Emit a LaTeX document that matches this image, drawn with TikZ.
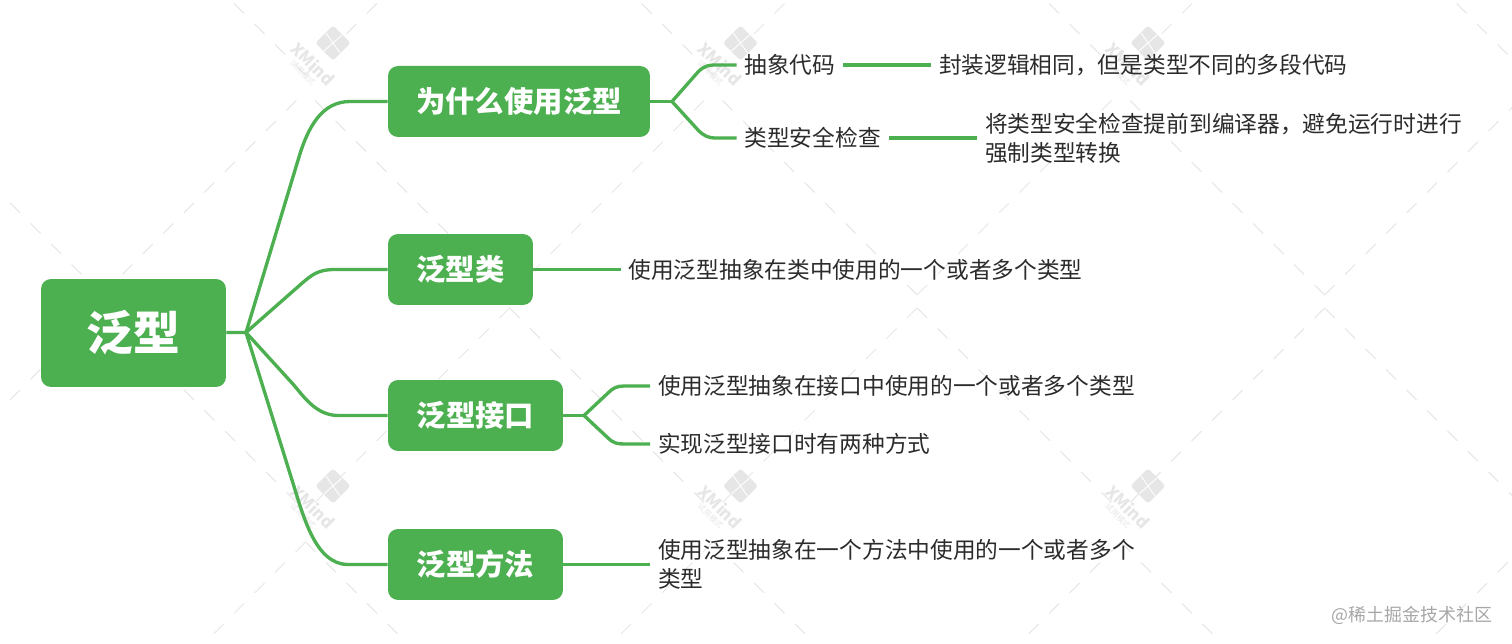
\documentclass[tikz,border=0pt]{standalone}
\usepackage{fontspec}
\setmainfont{Noto Sans CJK SC}
\definecolor{topicgreen}{HTML}{4CAF50}
\definecolor{leafink}{HTML}{2B2B2B}
\definecolor{markgray}{HTML}{E6E6E6}
\tikzset{
  topic/.style={rectangle, rounded corners=.2cm, fill=topicgreen, text=white, font=\fontsize{16.7}{20}\bfseries\selectfont, minimum height=1.42cm, inner sep=0pt},
  leaf/.style={anchor=west, align=left, text=leafink, font=\fontsize{12.92}{16.5}\selectfont, inner xsep=4.4pt, inner ysep=2pt},
  link/.style={draw=topicgreen, line width=1.9pt},
  markdash/.style={draw=markgray, line width=.6pt, dash pattern=on 8pt off 8.5pt}
}
\begin{document}
\begin{tikzpicture}[x=.02cm,y=-.02cm]
\clip (0,0) rectangle (1512,644);
\foreach \i in {0,...,3}{
\pgfmathsetmacro{\cx}{102+407.5*\i}
\pgfmathsetmacro{\wx}{\cx+203.5}
\draw[markdash] (\cx,295) -- ++(-197,-197);
\draw[markdash] (\cx,295) -- ++(197,-197);
\draw[markdash] (\cx,308) -- ++(-205,205);
\draw[markdash] (\cx,308) -- ++(205,205);
\draw[markdash] (\wx,75) -- ++(-80,-80);
\draw[markdash] (\wx,75) -- ++(80,-80);
\draw[markdash] (\wx,542) -- ++(-110,110);
\draw[markdash] (\wx,542) -- ++(110,110);
}
\foreach \wx in {333,740.5,1148}{
\foreach \wy in {43,486}{
\node[rectangle, rounded corners=.06cm, fill=markgray, minimum size=.5cm, inner sep=0pt, rotate=45] (mark\wy) at (\wx,\wy){};
\draw[white, line width=.5pt] (\wx-7,\wy-10) -- (\wx+7,\wy+10);
\draw[white, line width=.5pt] (\wx+9,\wy-8) -- (\wx-9,\wy+8);
\node[rotate=-45, text=markgray, font=\fontsize{9.5}{10}\bfseries\selectfont, inner sep=0pt] at (\wx-20,\wy+21){XMind};
\node[rotate=-45, text=markgray, font=\fontsize{4.5}{5}\selectfont, inner sep=0pt] at (\wx-30,\wy+30){试用模式};
}
}
\node[topic, minimum width=3.7cm, minimum height=2.16cm, font=\fontsize{26.6}{30}\bfseries\selectfont] (topic0) at (133.5,333){泛型};
\node[topic, minimum width=5.24cm] (topic1) at (519,101.5){为什么使用泛型};
\node[topic, minimum width=2.9cm] (topic2) at (460.5,269.5){泛型类};
\node[topic, minimum width=3.5cm] (topic3) at (475.5,415.5){泛型接口};
\node[topic, minimum width=3.5cm] (topic4) at (475.5,564.5){泛型方法};
\coordinate (fork0) at (246,332.5);
\coordinate (fork1) at (672,101.5);
\coordinate (fork3) at (584,415.5);
\draw[link](topic0) -- (fork0);
\draw[link](fork0) -- (299,157) .. controls (308,127) and (322,101.5) .. (350,101.5) -- (topic1.west);
\draw[link](fork0) -- (300,285) .. controls (312,274.5) and (318,269.5) .. (335,269.5) -- (topic2.west);
\draw[link](fork0) -- (292,383) .. controls (302,394) and (315,415.5) .. (338,415.5) -- (topic3.west);
\draw[link](fork0) -- (292,480) .. controls (303,515) and (315,564.5) .. (348,564.5) -- (topic4.west);
\node[leaf] (leaf1) at (736.5,65){抽象代码};
\node[leaf] (leaf2) at (736.5,138){类型安全检查};
\node[leaf] (leaf3) at (931,65){封装逻辑相同，但是类型不同的多段代码};
\node[leaf] (leaf4) at (977,138){将类型安全检查提前到编译器，避免运行时进行\\强制类型转换};
\draw[link](topic1) -- (fork1);
\draw[link](fork1) -- (698,72) .. controls (704,66) and (708,65) .. (716,65) -- (leaf1.west);
\draw[link](fork1) -- (698,130) .. controls (704,136) and (708,138) .. (716,138) -- (leaf2.west);
\draw[link](leaf1) -- (leaf3);
\draw[link](leaf2) -- (leaf4);
\node[leaf] (leaf5) at (620.5,269.5){使用泛型抽象在类中使用的一个或者多个类型};
\draw[link](topic2) -- (leaf5);
\node[leaf] (leaf6) at (650,386){使用泛型抽象在接口中使用的一个或者多个类型};
\node[leaf] (leaf7) at (650,444){实现泛型接口时有两种方式};
\draw[link](topic3) -- (fork3);
\draw[link](fork3) -- (608,393) .. controls (613,388) and (617,386) .. (624,386) -- (leaf6.west);
\draw[link](fork3) -- (608,438) .. controls (613,443) and (617,444) .. (624,444) -- (leaf7.west);
\node[leaf] (leaf8) at (650,564.5){使用泛型抽象在一个方法中使用的一个或者多个\\类型};
\draw[link](topic4) -- (leaf8);
\node[text=black!35, font=\fontsize{10.2}{14}\selectfont, inner sep=0pt] (site) at (1412,615){@稀土掘金技术社区};
\end{tikzpicture}
\end{document}
